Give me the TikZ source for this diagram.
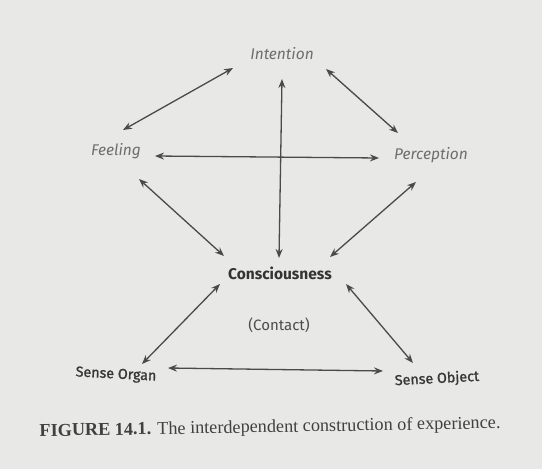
\documentclass[tikz,border=0pt]{standalone}
\usepackage{fontspec}
\setmainfont{Liberation Serif}
\setsansfont{Fira Sans}
\newfontfamily\medsans[FakeBold=1.3]{Fira Sans}
\usetikzlibrary{arrows.meta,calc}
\definecolor{paper}{HTML}{E8E8E6}
\definecolor{ink}{HTML}{4A4A4A}
\definecolor{soft}{HTML}{6E6E6E}
\begin{document}
\begin{tikzpicture}[x=1pt,y=-1pt,
  arr/.style={{Stealth[length=9pt,width=7pt]}-{Stealth[length=9pt,width=7pt]},draw=ink,line width=1.3pt},
  lbl/.style={font=\sffamily\itshape\fontsize{15.5}{18}\selectfont,text=soft,inner sep=0pt},
  core/.style={font=\sffamily\bfseries\fontsize{15.5}{18}\selectfont,text=black!80,inner sep=0pt},
  base/.style={font=\medsans\fontsize{14.3}{17}\selectfont,text=black!78,inner sep=0pt},
  mid/.style={font=\sffamily\fontsize{15}{18}\selectfont,text=black!70,inner sep=0pt}]
\fill[paper] (0,0) rectangle (542,469);
\useasboundingbox (0,0) rectangle (542,469);
\node[lbl] (int) at (282,54) {Intention};
\node[lbl] (feel) at (116,151) {Feeling};
\node[lbl] (perc) at (431,155) {Perception};
\node[core] (con) at (280,273) {Consciousness};
\node[mid] (cont) at (279,325) {(Contact)};
\node[base,rotate=-3] (org) at (116,375) {Sense Organ};
\node[base,rotate=3] (obj) at (437,379) {Sense Object};
\node[font=\fontsize{18.2}{20}\selectfont,text=black!75,inner sep=0pt,rotate=1] (cap) at (270,428)
  {\textbf{FIGURE 14.1.} The interdependent construction of experience.};
\draw[arr] ($(int)+(-49,14)$) -- ($(feel)+(7,-21)$);
\draw[arr] ($(int)+(0,25)$) -- ($(con)+(-1,-15)$);
\draw[arr] ($(int)+(44,15)$) -- ($(perc)+(-33,-22)$);
\draw[arr] ($(feel)+(39,5)$) -- ($(perc)+(-52,3)$);
\draw[arr] ($(feel)+(23,28)$) -- ($(con)+(-56,-17)$);
\draw[arr] ($(perc)+(-15,27)$) -- ($(con)+(50,-16)$);
\draw[arr] ($(con)+(-60,11)$) -- ($(org)+(26,-11)$);
\draw[arr] ($(con)+(66,11)$) -- ($(obj)+(-24,-16)$);
\draw[arr] ($(org)+(52,-7)$) -- ($(obj)+(-54,-8)$);
\end{tikzpicture}
\end{document}
